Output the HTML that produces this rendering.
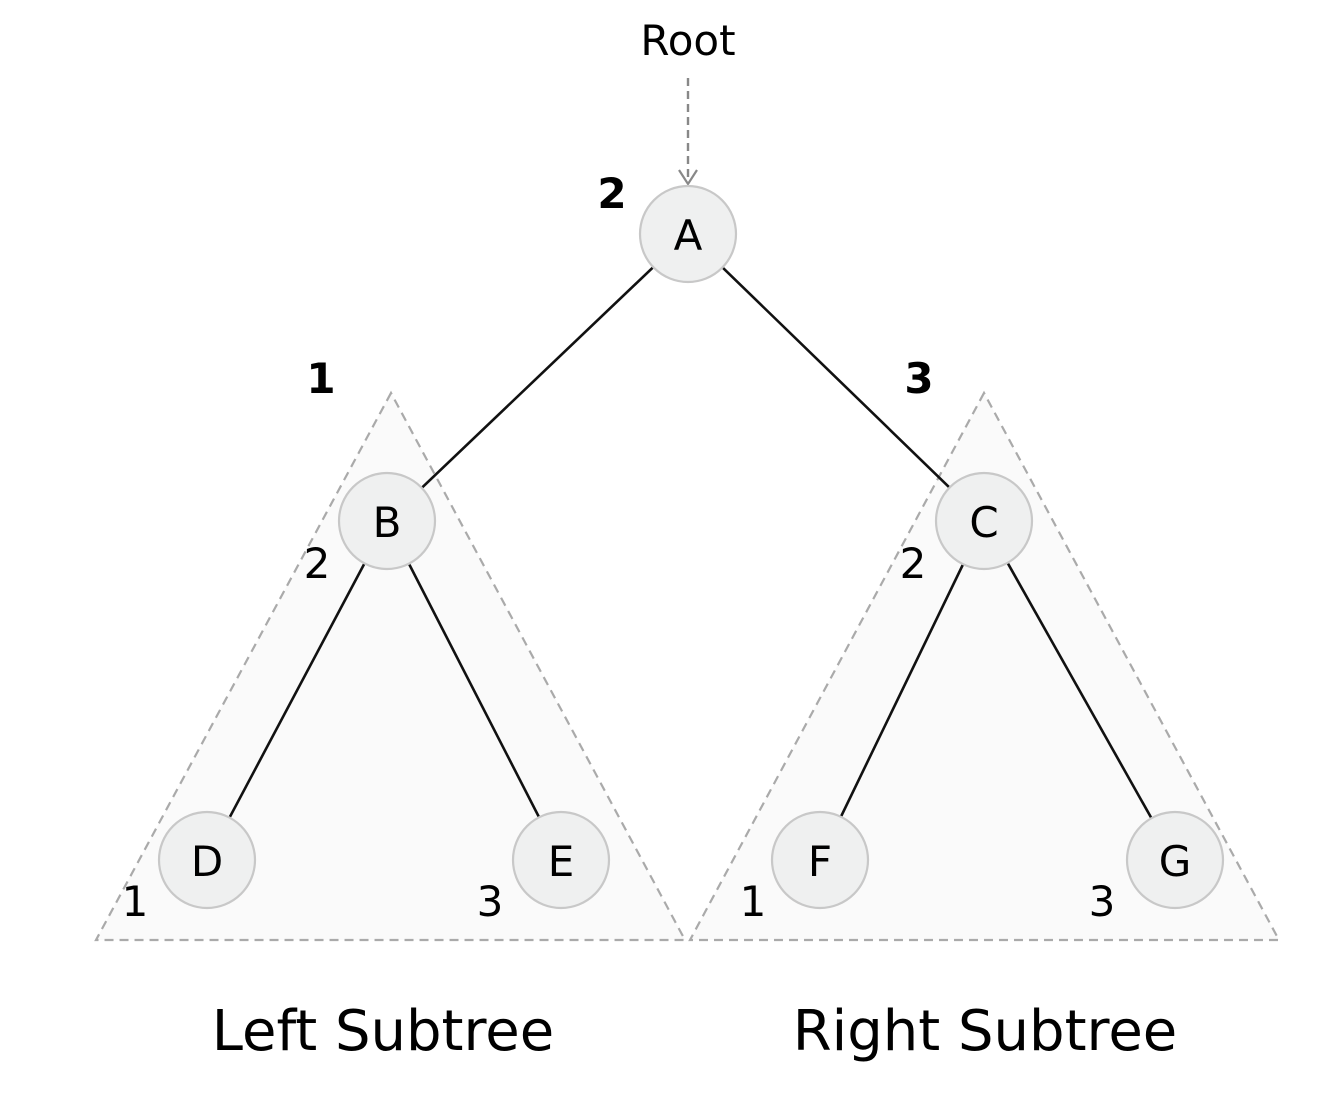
<!DOCTYPE html>
<html><head><style>body{margin:0;background:#fff}svg{display:block}text{font-family:"DejaVu Sans","Liberation Sans",sans-serif}</style></head>
<body>
<svg width="1329" height="1106" viewBox="0 0 1329 1106" xmlns="http://www.w3.org/2000/svg">
<g fill="#fafafa" stroke="#aaa" stroke-width="2.2" stroke-dasharray="9,6">
<polygon points="391,393 96,940 685,940"/>
<polygon points="984,393 690,940 1279,940"/>
</g>
<g stroke="#111" stroke-width="2.6">
<line x1="688" y1="234" x2="387" y2="521"/>
<line x1="688" y1="234" x2="984" y2="521"/>
<line x1="387" y1="521" x2="207" y2="860"/>
<line x1="387" y1="521" x2="561" y2="860"/>
<line x1="984" y1="521" x2="820" y2="860"/>
<line x1="984" y1="521" x2="1175" y2="860"/>
</g>
<line x1="688" y1="78" x2="688" y2="182" stroke="#888" stroke-width="2.4" stroke-dasharray="8,5"/>
<polyline points="679,170 688,184 697,170" fill="none" stroke="#888" stroke-width="2.2"/>
<g fill="#eff0f0" stroke="#c8c8c8" stroke-width="2.2">
<circle cx="688" cy="234" r="48"/>
<circle cx="387" cy="521" r="48"/>
<circle cx="984" cy="521" r="48"/>
<circle cx="207" cy="860" r="48"/>
<circle cx="561" cy="860" r="48"/>
<circle cx="820" cy="860" r="48"/>
<circle cx="1175" cy="860" r="48"/>
</g>
<g font-size="42" text-anchor="middle" fill="#000">
<text x="688" y="250">A</text>
<text x="387" y="537">B</text>
<text x="984" y="537">C</text>
<text x="207" y="876">D</text>
<text x="561" y="876">E</text>
<text x="820" y="876">F</text>
<text x="1175" y="876">G</text>
</g>
<text x="688" y="55" font-size="42" text-anchor="middle">Root</text>
<g font-size="42" font-weight="bold" text-anchor="middle">
<text x="612" y="208">2</text>
<text x="321" y="393">1</text>
<text x="919" y="393">3</text>
</g>
<g font-size="42" text-anchor="middle">
<text x="317" y="578">2</text>
<text x="913" y="578">2</text>
<text x="135" y="916">1</text>
<text x="490" y="916">3</text>
<text x="753" y="916">1</text>
<text x="1102" y="916">3</text>
</g>
<g font-size="56" text-anchor="middle">
<text x="383" y="1050">Left Subtree</text>
<text x="985" y="1050">Right Subtree</text>
</g>
</svg>
</body></html>
